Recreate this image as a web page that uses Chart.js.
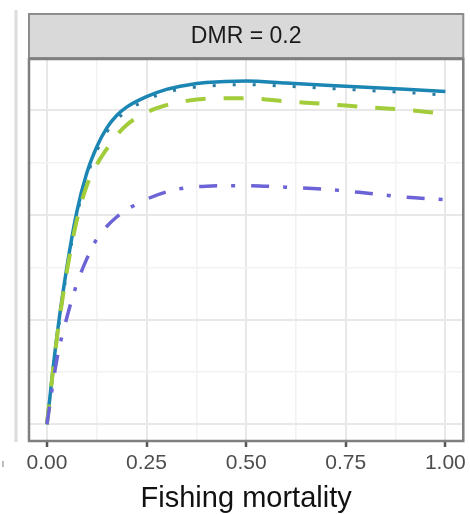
<!DOCTYPE html>
<html>
<head>
<meta charset="utf-8">
<script src="https://cdn.jsdelivr.net/npm/chart.js@4/dist/chart.umd.min.js"></script>
<style>
  html, body { margin: 0; padding: 0; background: #ffffff; }
  #wrap { width: 470px; height: 514px; position: relative; }
</style>
</head>
<body>
<div id="wrap"><canvas id="c" width="470" height="514"></canvas></div>
<script>
// ---- data ----
const panelTitle = "DMR = 0.2";
const xTitle = "Fishing mortality";
const fishingMortality = [0, 0.025, 0.05, 0.075, 0.1, 0.125, 0.15, 0.175, 0.2, 0.25, 0.3, 0.35, 0.4, 0.5, 0.6, 0.7, 0.8, 0.9, 1.0];
const solidSeries   = [0, 84, 150, 203, 240, 265, 283, 295, 303, 313, 320, 324, 326.5, 328, 326, 324, 322, 320, 318];
const dottedSeries  = [0, 80, 146, 199, 236, 261, 279, 291, 299, 310, 317, 321, 323, 324.5, 323, 321, 319, 317, 314.5];
const dashedSeries  = [0, 82, 146, 195, 228, 248, 263, 276, 286, 298, 305, 309, 311, 311.5, 308.5, 306, 303, 300.5, 296.5];
const dotdashSeries = [0, 62, 102, 134, 158, 177, 189, 198, 205, 215, 222, 226, 227.5, 228, 226.5, 224.5, 221, 217, 214.5];
const xTickLabels = ["0.00", "0.25", "0.50", "0.75", "1.00"];

const pts = arr => arr.map((v, i) => ({ x: fishingMortality[i], y: v }));

const decor = {
  id: 'decor',
  beforeDraw(chart) {
    const ctx = chart.ctx;
    ctx.save();
    ctx.fillStyle = '#ffffff';
    ctx.fillRect(0, 0, chart.width, chart.height);
    ctx.strokeStyle = '#dcdcdc';
    ctx.lineWidth = 3;
    ctx.beginPath(); ctx.moveTo(16, 10); ctx.lineTo(16, 442); ctx.stroke();
    ctx.restore();
  },
  afterDraw(chart) {
    const ctx = chart.ctx;
    const a = chart.chartArea;
    ctx.save();
    const sTop = 14, sBot = a.top - 1;
    ctx.fillStyle = '#d9d9d9';
    ctx.fillRect(a.left, sTop, a.right - a.left, sBot - sTop);
    ctx.strokeStyle = '#8c8c8c';
    ctx.lineWidth = 2;
    ctx.strokeRect(a.left, sTop, a.right - a.left, sBot - sTop);
    ctx.fillStyle = '#1a1a1a';
    ctx.font = '23px "Liberation Sans", Arial, sans-serif';
    ctx.textAlign = 'center';
    ctx.textBaseline = 'middle';
    ctx.fillText(panelTitle, (a.left + a.right) / 2, (sTop + sBot) / 2 + 1);
    ctx.strokeStyle = '#7f7f7f';
    ctx.lineWidth = 2.5;
    ctx.strokeRect(a.left, a.top, a.right - a.left, a.bottom - a.top);
    ctx.fillStyle = '#bdbdbd';
    ctx.fillRect(2, 461, 2, 6);
    ctx.restore();
  }
};

new Chart(document.getElementById('c'), {
  type: 'line',
  data: {
    datasets: [
      { label: 'dotdash', data: pts(dotdashSeries), borderColor: '#6b63d6', borderWidth: 3.5, borderDash: [18, 14, 4, 16], pointRadius: 0, cubicInterpolationMode: 'monotone' },
      { label: 'dashed', data: pts(dashedSeries), borderColor: '#a2cc3a', borderWidth: 4, borderDash: [20, 18], pointRadius: 0, cubicInterpolationMode: 'monotone' },
      { label: 'solid', data: pts(solidSeries), borderColor: '#1b86b3', borderWidth: 3.5, pointRadius: 0, cubicInterpolationMode: 'monotone' },
      { label: 'dotted', data: pts(dottedSeries), borderColor: '#2c7b9c', borderWidth: 3, borderDash: [3, 17], pointRadius: 0, cubicInterpolationMode: 'monotone' }
    ]
  },
  options: {
    responsive: false,
    animation: false,
    devicePixelRatio: 1,
    layout: { padding: { left: 29, right: 5, top: 59, bottom: 0 } },
    plugins: { legend: { display: false }, tooltip: { enabled: false } },
    scales: {
      x: {
        type: 'linear',
        min: -0.045,
        max: 1.045,
        afterBuildTicks(scale) {
          scale.ticks = [0, 0.125, 0.25, 0.375, 0.5, 0.625, 0.75, 0.875, 1].map(v => ({ value: v }));
        },
        afterFit(scale) { scale.height = 73; },
        border: { display: false },
        grid: {
          color: ctx => (Math.round(ctx.tick.value * 8) % 2 === 0) ? '#e8e8e8' : '#f2f2f2',
          lineWidth: ctx => (Math.round(ctx.tick.value * 8) % 2 === 0) ? 2 : 1.5,
          tickColor: ctx => (Math.round(ctx.tick.value * 8) % 2 === 0) ? '#555555' : 'rgba(0,0,0,0)',
          tickWidth: 2.5,
          tickLength: 6,
          drawTicks: true
        },
        ticks: {
          autoSkip: false,
          maxRotation: 0,
          padding: 4,
          color: '#4d4d4d',
          font: { family: '"Liberation Sans", Arial, sans-serif', size: 21 },
          callback: v => {
            const i = [0, 0.25, 0.5, 0.75, 1].findIndex(t => Math.abs(t - v) < 1e-6);
            return i >= 0 ? xTickLabels[i] : '';
          }
        },
        title: {
          display: true,
          text: xTitle,
          color: '#111111',
          font: { family: '"Liberation Sans", Arial, sans-serif', size: 29, lineHeight: 1 },
          padding: { top: 0, bottom: 1 }
        }
      },
      y: {
        type: 'linear',
        min: -16,
        max: 349,
        afterBuildTicks(scale) {
          scale.ticks = [0, 50, 100, 150, 200, 250, 300].map(v => ({ value: v }));
        },
        afterFit(scale) { scale.width = 0; },
        border: { display: false },
        grid: {
          color: ctx => (ctx.tick.value % 100 === 0) ? '#e8e8e8' : '#f2f2f2',
          lineWidth: ctx => (ctx.tick.value % 100 === 0) ? 2 : 1.5,
          drawTicks: false
        },
        ticks: { display: false }
      }
    }
  },
  plugins: [decor]
});
</script>
</body>
</html>
